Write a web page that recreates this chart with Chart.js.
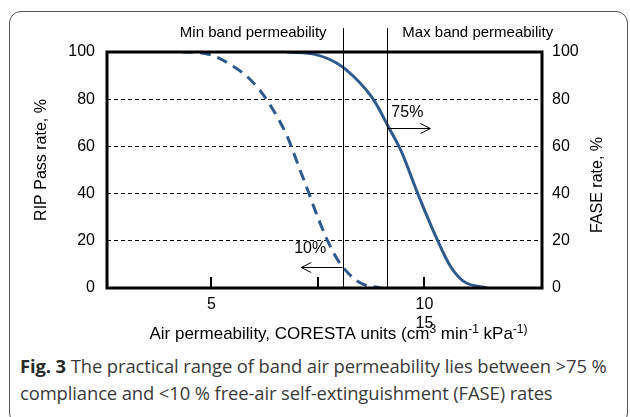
<!DOCTYPE html>
<html>
<head>
<meta charset="utf-8">
<script src="https://cdn.jsdelivr.net/npm/chart.js@4.4.3/dist/chart.umd.min.js"></script>
<style>
  html, body { margin: 0; padding: 0; background: #fff; }
  body { width: 630px; height: 417px; position: relative; overflow: hidden; }
  #frame {
    position: absolute; left: 9px; top: 11px; width: 617px; height: 412px;
    border: 1.5px solid #555; border-radius: 12px;
  }
  #wrap { position: absolute; left: 0; top: 0; width: 630px; height: 345px; }
  #caption {
    position: absolute; left: 20px; top: 352px; width: 606px;
    font-family: "Open Sans", sans-serif; font-size: 18.4px; line-height: 27px;
    color: #3a3a3a; letter-spacing: -0.1px;
  }
  #caption b { font-weight: 700; color: #2a2a2a; }
</style>
</head>
<body>
<div id="frame"></div>
<div id="wrap"><canvas id="fig"></canvas></div>
<div id="caption"><b>Fig. 3</b> The practical range of band air permeability lies between &gt;75 % compliance and &lt;10 % free-air self-extinguishment (FASE) rates</div>
<script>
// RIP pass rate (solid, left axis)
const ripX = [6.78, 7.45, 7.95, 8.34, 8.81, 9.16, 9.44, 9.87, 10.30, 10.61, 10.92, 11.47];
const ripY = [100, 98.9, 95.2, 89.6, 79.7, 68.1, 58.6, 38.8, 20.5, 9.2, 2.8, 0];

// FASE rate (dashed, right axis)
const faseX = [4.31, 4.82, 5.52, 5.99, 6.35, 6.78, 7.05, 7.29, 7.52, 7.83, 8.07, 8.50, 8.97];
const faseY = [100, 99.5, 93.9, 86.9, 78.4, 64.2, 51.5, 40.1, 28.9, 16.2, 9.2, 2.1, 0];

// x axis ticks and labels
const xTicks = [5, 7.5, 10];
const xTickLabels = ["5", "", ["10", "15"]];
const yTicks = [0, 20, 40, 60, 80, 100];

// band limits and arrow annotations
const minBand = 8.08;
const maxBand = 9.13;
const passArrow = { y: 68, from: maxBand, to: 10.14, label: "75%", lx: 9.6, ly: 74.5 };
const faseArrow = { y: 9, from: minBand, to: 7.11, label: "10%", lx: 7.32, ly: 16.5 };

const lineBlue = "#2f5a8b";
const txtFont = '16px "Liberation Sans", Arial, sans-serif';

const figPlugin = {
  id: "figDecor",
  afterDatasetsDraw(chart) {
    const { ctx, chartArea: a, scales } = chart;
    const xs = scales.x, ys = scales.y;
    ctx.save();
    // frame of plot area
    ctx.strokeStyle = "#000";
    ctx.lineWidth = 3;
    ctx.strokeRect(a.left, a.top, a.right - a.left, a.bottom - a.top);
    // inner tick marks on x axis
    ctx.lineWidth = 2;
    xTicks.forEach(v => {
      const px = Math.round(xs.getPixelForValue(v));
      ctx.beginPath();
      ctx.moveTo(px, a.bottom);
      ctx.lineTo(px, a.bottom - 11);
      ctx.stroke();
    });
    // band lines
    ctx.lineWidth = 1;
    [minBand, maxBand].forEach(v => {
      const px = Math.round(xs.getPixelForValue(v)) + 0.5;
      ctx.beginPath();
      ctx.moveTo(px, 28);
      ctx.lineTo(px, a.bottom);
      ctx.stroke();
    });
    ctx.fillStyle = "#000";
    ctx.font = '15px "Liberation Sans", Arial, sans-serif';
    ctx.textBaseline = "middle";
    ctx.textAlign = "right";
    ctx.fillText("Min band permeability", xs.getPixelForValue(minBand) - 16, 33);
    ctx.textAlign = "left";
    ctx.fillText("Max band permeability", xs.getPixelForValue(maxBand) + 15, 33);
    // arrows
    ctx.font = txtFont;
    [passArrow, faseArrow].forEach(ar => {
      const y = Math.round(ys.getPixelForValue(ar.y)) + 0.5;
      const x0 = xs.getPixelForValue(ar.from);
      const x1 = xs.getPixelForValue(ar.to);
      const dir = x1 > x0 ? 1 : -1;
      ctx.beginPath();
      ctx.moveTo(x0, y);
      ctx.lineTo(x1, y);
      ctx.moveTo(x1 - dir * 10, y - 5);
      ctx.lineTo(x1, y);
      ctx.lineTo(x1 - dir * 10, y + 5);
      ctx.stroke();
      ctx.textAlign = "center";
      ctx.fillText(ar.label, xs.getPixelForValue(ar.lx), ys.getPixelForValue(ar.ly));
    });
    // y axis titles
    ctx.save();
    ctx.translate(42, (a.top + a.bottom) / 2 - 10);
    ctx.rotate(-Math.PI / 2);
    ctx.fillText("RIP Pass rate, %", 0, 0);
    ctx.restore();
    ctx.save();
    ctx.translate(598, (a.top + a.bottom) / 2 + 15);
    ctx.rotate(-Math.PI / 2);
    ctx.fillText("FASE rate, %", 0, 0);
    ctx.restore();
    // x axis title with superscripts
    const parts = [
      ["Air permeability, CORESTA units (cm", false], ["3", true], [" min", false],
      ["-1", true], [" kPa", false], ["-1)", true]
    ];
    const big = '17px "Liberation Sans", Arial, sans-serif';
    const small = '12px "Liberation Sans", Arial, sans-serif';
    let total = 0;
    parts.forEach(p => { ctx.font = p[1] ? small : big; total += ctx.measureText(p[0]).width; });
    let x = (a.left + a.right) / 2 + 14 - total / 2;
    const yb = 339;
    ctx.textAlign = "left";
    ctx.textBaseline = "alphabetic";
    parts.forEach(p => {
      ctx.font = p[1] ? small : big;
      ctx.fillText(p[0], x, p[1] ? yb - 6 : yb);
      x += ctx.measureText(p[0]).width;
    });
    ctx.restore();
  }
};

new Chart(document.getElementById("fig"), {
  type: "line",
  data: {
    datasets: [
      {
        label: "RIP Pass rate",
        data: ripX.map((x, i) => ({ x: x, y: ripY[i] })),
        yAxisID: "y",
        borderColor: lineBlue,
        borderWidth: 3,
        pointRadius: 0,
        cubicInterpolationMode: "monotone"
      },
      {
        label: "FASE rate",
        data: faseX.map((x, i) => ({ x: x, y: faseY[i] })),
        yAxisID: "y2",
        borderColor: lineBlue,
        borderWidth: 3,
        borderDash: [11, 7],
        pointRadius: 0,
        cubicInterpolationMode: "monotone"
      }
    ]
  },
  options: {
    responsive: true,
    maintainAspectRatio: false,
    animation: false,
    events: [],
    layout: { padding: { top: 52, left: 0, right: 0, bottom: 0 } },
    plugins: { legend: { display: false }, tooltip: { enabled: false } },
    scales: {
      x: {
        type: "linear",
        min: 2.55,
        max: 12.76,
        afterBuildTicks: s => { s.ticks = xTicks.map(v => ({ value: v })); },
        afterFit: s => { s.height = 57; },
        grid: { display: false, drawTicks: false },
        border: { display: false },
        ticks: {
          padding: 7,
          color: "#000",
          font: { family: '"Liberation Sans", Arial, sans-serif', size: 16 },
          lineHeight: 1.15,
          maxRotation: 0,
          autoSkip: false,
          callback: v => xTickLabels[xTicks.indexOf(v)]
        }
      },
      y: {
        position: "left",
        min: 0,
        max: 100,
        afterBuildTicks: s => { s.ticks = yTicks.map(v => ({ value: v })); },
        afterFit: s => { s.width = 107; },
        grid: { color: "#000", lineWidth: 1, drawTicks: false },
        border: { display: false, dash: [4, 3] },
        ticks: {
          padding: 12,
          color: "#000",
          font: { family: '"Liberation Sans", Arial, sans-serif', size: 16 }
        }
      },
      y2: {
        position: "right",
        min: 0,
        max: 100,
        afterBuildTicks: s => { s.ticks = yTicks.map(v => ({ value: v })); },
        afterFit: s => { s.width = 88; },
        grid: { drawOnChartArea: false, drawTicks: false },
        border: { display: false },
        ticks: {
          padding: 10,
          color: "#000",
          font: { family: '"Liberation Sans", Arial, sans-serif', size: 16 }
        }
      }
    }
  },
  plugins: [figPlugin]
});
</script>
</body>
</html>
